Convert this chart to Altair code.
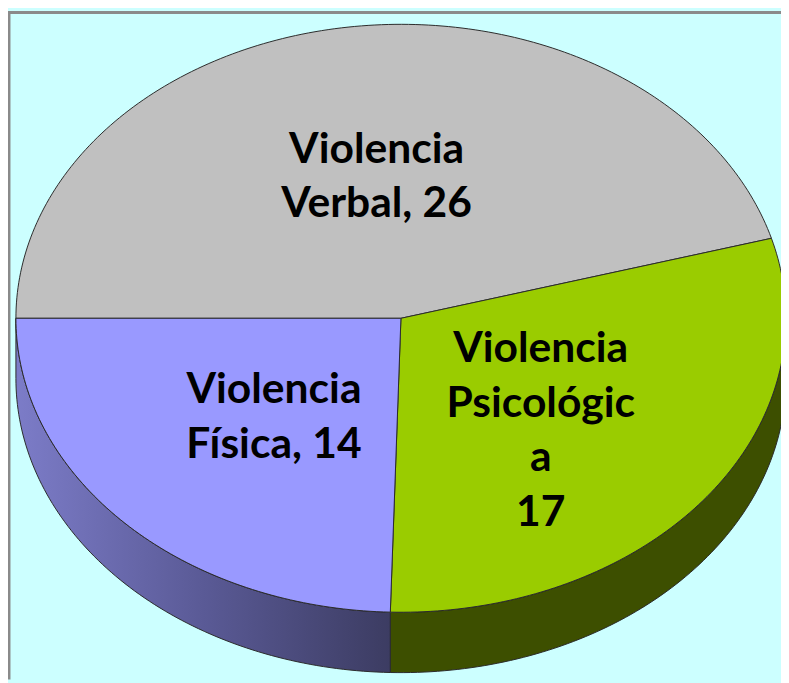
import altair as alt
import numpy as np
import pandas as pd

# ---- data ----
categories = ["Violencia Verbal", "Violencia Psicológica", "Violencia Física"]
values = [26, 17, 14]
label_lines = [
    ["Violencia", "Verbal, 26"],
    ["Violencia", "Psicológic", "a", "17"],
    ["Violencia", "Física, 14"],
]

# ---- styles ----
top_colors = ["#C0C0C0", "#9ACC00", "#9999FF"]
side_fills = [
    "#808080",
    "#3D4F00",
    alt.Gradient(
        gradient="linear",
        stops=[
            alt.GradientStop(color="#7C7CC8", offset=0),
            alt.GradientStop(color="#5A5A96", offset=0.5),
            alt.GradientStop(color="#3C3C62", offset=1),
        ],
        x1=0, x2=1, y1=0, y2=0,
    ),
]

# ---- layout (view pixels) ----
W, H = 781, 675
CX, CY = 397, 310
RX, RY = 389, 297
DEPTH = 61
START_ANGLE = 180.0      # first slice starts at 9 o'clock, going clockwise
LABEL_R = 0.46
LINE_H = 55
FONT_SIZE = 43
label_nudge_y = [-7, 30, 5]   # small per-label placement tweak (like Excel's best-fit)

total = float(sum(values))
spans = [v / total * 360.0 for v in values]
starts = []
a = START_ANGLE
for s in spans:
    starts.append(a)
    a -= s
ends = [st - sp for st, sp in zip(starts, spans)]


def pt(deg, dy=0.0):
    r = np.radians(deg)
    return CX + RX * np.cos(r), CY - RY * np.sin(r) + dy


xs = alt.Scale(domain=[0, W], nice=False, zero=False)
ys = alt.Scale(domain=[0, H], nice=False, zero=False, reverse=True)


def poly_chart(points, fill):
    df = pd.DataFrame({"x": [p[0] for p in points], "y": [p[1] for p in points],
                       "i": list(range(len(points)))})
    return alt.Chart(df).mark_line(
        fill=fill, stroke="#2a2a2a", strokeWidth=1, strokeJoin="round", clip=True
    ).encode(
        x=alt.X("x:Q", scale=xs, axis=None),
        y=alt.Y("y:Q", scale=ys, axis=None),
        order=alt.Order("i:Q"),
    )


layers = []
# sides (front half only: angles between -180 and 0)
for k in range(len(values)):
    lo, hi = ends[k], starts[k]
    for shift in (0, -360, 360):
        l2, h2 = max(lo + shift, -180.0), min(hi + shift, 0.0)
        if h2 - l2 > 0.01:
            n = max(int((h2 - l2) / 1.0), 2)
            arc = np.linspace(h2, l2, n + 1)
            pts = [pt(d) for d in arc] + [pt(d, DEPTH) for d in arc[::-1]]
            pts.append(pts[0])
            layers.append(poly_chart(pts, side_fills[k]))

# top faces
for k in range(len(values)):
    n = max(int(spans[k] / 1.0), 2)
    arc = np.linspace(starts[k], ends[k], n + 1)
    pts = [(CX, CY)] + [pt(d) for d in arc] + [(CX, CY)]
    layers.append(poly_chart(pts, top_colors[k]))

# labels centred at slice mid-angles (first line placed so the block is centred)
mids = [(s + e) / 2 for s, e in zip(starts, ends)]
lab = pd.DataFrame({
    "x": [CX + LABEL_R * RX * np.cos(np.radians(m)) for m in mids],
    "y": [CY - LABEL_R * RY * np.sin(np.radians(m)) - (len(t) - 1) * LINE_H / 2 + nd
          for m, t, nd in zip(mids, label_lines, label_nudge_y)],
    "text": label_lines,
    "cat": categories,
})
layers.append(
    alt.Chart(lab).mark_text(
        font="Lato", fontWeight="bold", fontSize=FONT_SIZE, lineHeight=LINE_H,
        align="center", baseline="middle", color="black",
    ).encode(
        x=alt.X("x:Q", scale=xs, axis=None),
        y=alt.Y("y:Q", scale=ys, axis=None),
        text="text",
    )
)

# frame (left and top edges)
one = pd.DataFrame({"a": [0]})
layers.append(alt.Chart(one).mark_rule(color="#8a8a8a", strokeWidth=3).encode(
    x=alt.value(1), y=alt.value(0), y2=alt.value(H)))
layers.append(alt.Chart(one).mark_rule(color="#8a8a8a", strokeWidth=3).encode(
    y=alt.value(1), x=alt.value(0), x2=alt.value(W)))

chart = alt.layer(*layers).properties(
    width=W, height=H, padding=0, autosize="none", background="#CCFFFF"
).configure_view(strokeWidth=0, fill="#CCFFFF")

chart.save("out.html", embed_options={"renderer": "svg", "actions": False})
